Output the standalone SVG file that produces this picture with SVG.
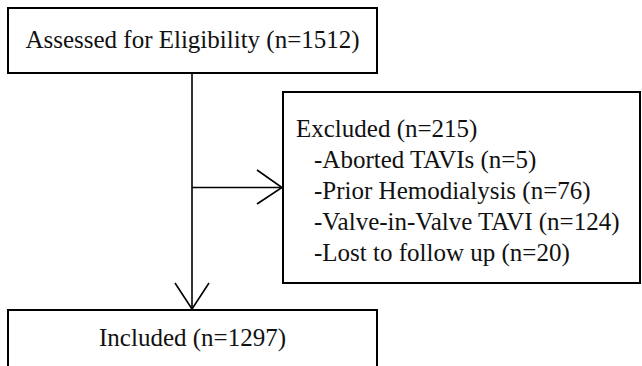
<svg xmlns="http://www.w3.org/2000/svg" width="642" height="366" viewBox="0 0 642 366">
<style>
.box{fill:#fff;stroke:#000;stroke-width:2}
.t{font-family:"Liberation Serif","Times New Roman",serif;font-size:25px;fill:#111}
.c{text-anchor:middle}
.ln{fill:none;stroke:#000;stroke-width:1.6}
</style>
<rect width="642" height="366" fill="#fff"/>
<g id="connectors">
<path class="ln" d="M192 73 V309"/>
<path class="ln" d="M175 283 L192 309 L209 283"/>
<path class="ln" d="M192 187.5 H282"/>
<path class="ln" d="M257 170 L282 187.5 L257 204"/>
</g>
<g id="assessed">
<rect class="box" x="8" y="8" width="369" height="65"/>
<text class="t c" x="192.5" y="48">Assessed for Eligibility (n=1512)</text>
</g>
<g id="excluded">
<rect class="box" x="283" y="92" width="357" height="191"/>
<text class="t" x="296" y="137">Excluded (n=215)</text>
<text class="t" x="314" y="168">-Aborted TAVIs (n=5)</text>
<text class="t" x="314" y="199">-Prior Hemodialysis (n=76)</text>
<text class="t" x="314" y="230">-Valve-in-Valve TAVI (n=124)</text>
<text class="t" x="314" y="261">-Lost to follow up (n=20)</text>
</g>
<g id="included">
<rect class="box" x="8" y="310" width="369" height="70"/>
<text class="t c" x="192.5" y="346">Included (n=1297)</text>
</g>
</svg>
